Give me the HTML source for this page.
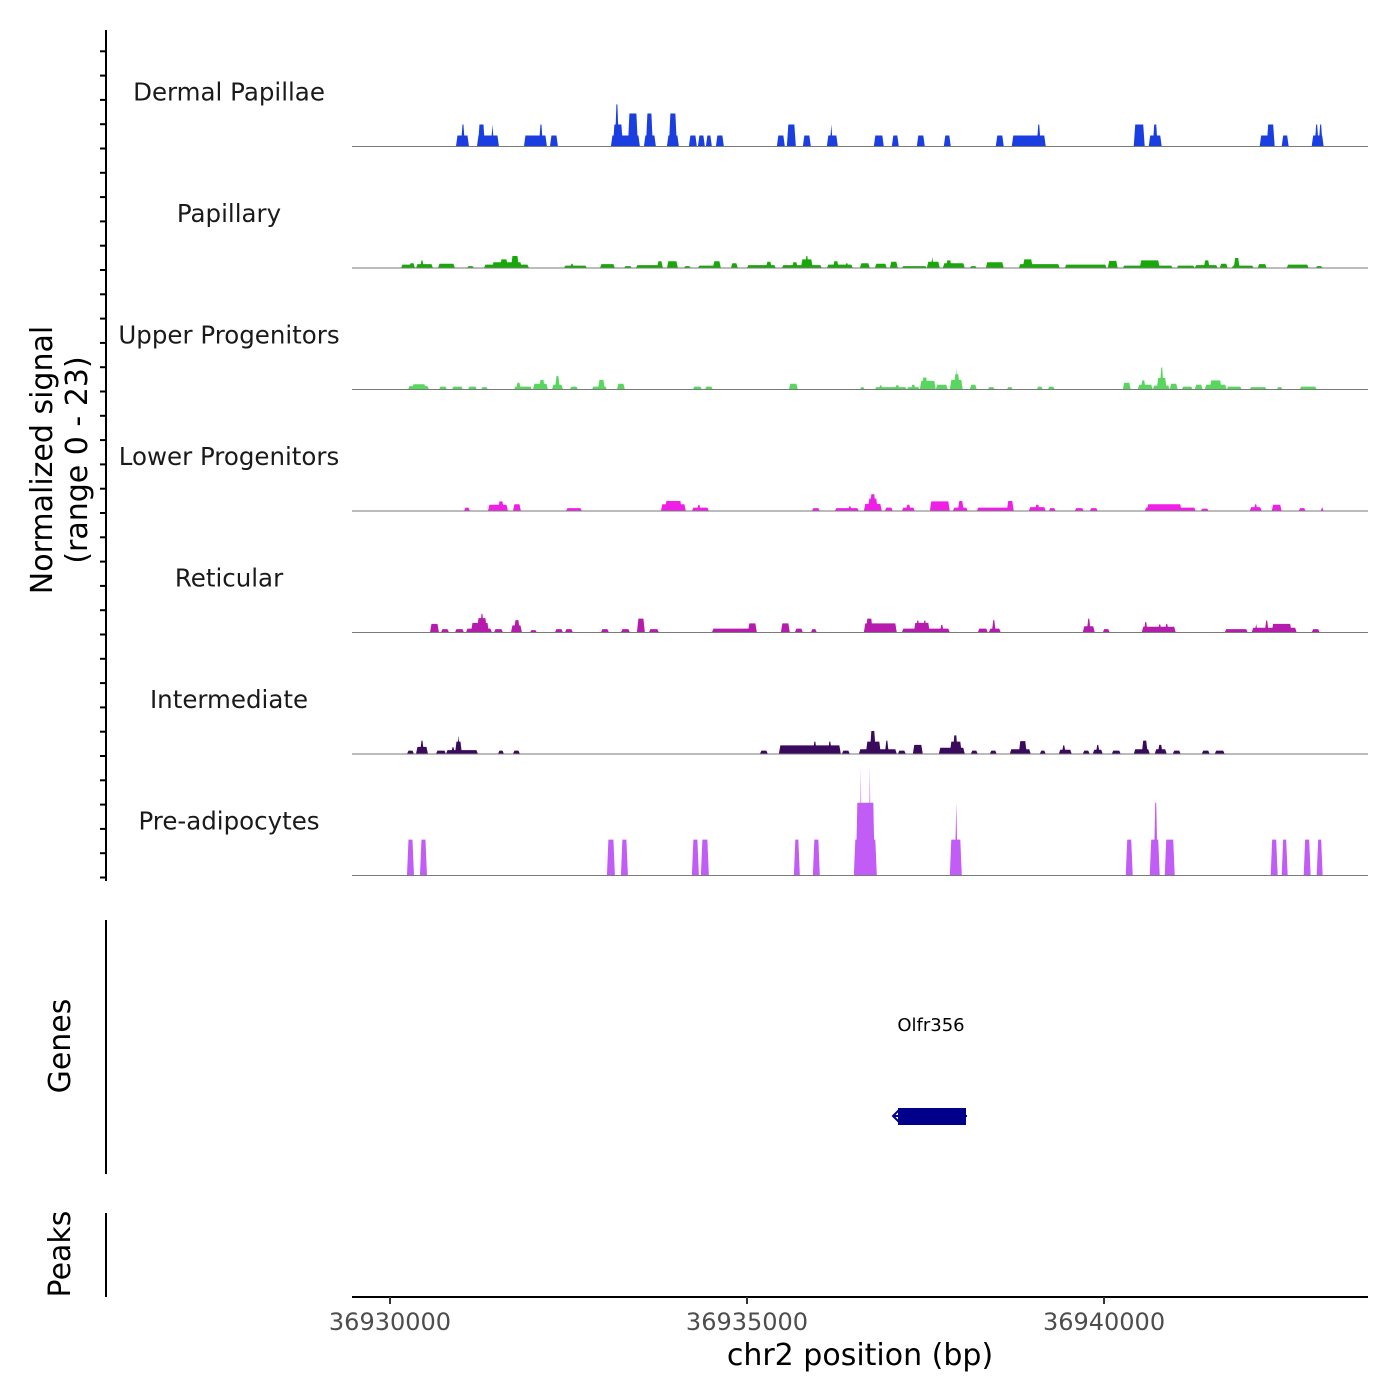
<!DOCTYPE html>
<html><head><meta charset="utf-8"><style>
html,body{margin:0;padding:0;background:#fff;}
svg{display:block;font-family:"DejaVu Sans","Liberation Sans",sans-serif;}
</style></head><body>
<svg id="chart" width="1400" height="1400" viewBox="0 0 1400 1400" xmlns="http://www.w3.org/2000/svg">
<g id="tracks"></g>
<g id="leftaxis"></g>
<text transform="translate(52,460) rotate(-90)" text-anchor="middle" font-size="30" fill="#000">Normalized signal</text>
<text transform="translate(87,460) rotate(-90)" text-anchor="middle" font-size="30" fill="#000">(range 0 - 23)</text>
<line x1="106" y1="920" x2="106" y2="1174" stroke="#000" stroke-width="2"/>
<text transform="translate(70,1046) rotate(-90)" text-anchor="middle" font-size="30" fill="#000">Genes</text>
<text x="931" y="1031" text-anchor="middle" font-size="18" fill="#000">Olfr356</text>
<line x1="893" y1="1116" x2="967" y2="1116" stroke="#00008b" stroke-width="2"/>
<polyline points="899,1110 893,1116 899,1122" fill="none" stroke="#00008b" stroke-width="2"/>
<rect x="898" y="1108" width="68" height="17" fill="#00008b"/>
<line x1="106" y1="1213" x2="106" y2="1297" stroke="#000" stroke-width="2"/>
<text transform="translate(70,1254) rotate(-90)" text-anchor="middle" font-size="30" fill="#000">Peaks</text>
<g id="xaxis"></g>
<text x="860" y="1365" text-anchor="middle" font-size="30" fill="#000">chr2 position (bp)</text>
</svg>
<script>
// genomic window and bin size (bp)
const windowStart = 36929468;
const windowEnd = 36943697;
const binSize = 14;
const signalMax = 23;
const trackNames = ["Dermal Papillae","Papillary","Upper Progenitors","Lower Progenitors","Reticular","Intermediate","Pre-adipocytes"];
const trackColors = ["#1a3ee0","#19a80a","#58d75f","#f01fe6","#b51cae","#3a0a5c","#c25cf6"];
const xTicks = [36930000, 36935000, 36940000];
const xTickLabels = ["36930000","36935000","36940000"];
// segments: [startBin, endBin, normalized signal]
const dermalPapillae = [[104,117,2.3],[109,113,4.6],[125,147,2.3],[126,133,4.6],[139,142,4.6],[172,195,2.3],[187,191,4.6],[198,206,2.3],[259,288,2.3],[261,271,4.6],[263,267,8.8],[276,286,6.9],[292,304,2.3],[294,301,6.9],[315,327,2.3],[317,325,6.9],[337,345,2.3],[346,353,2.3],[354,360,2.3],[364,372,2.3],[425,433,2.3],[435,444,4.6],[451,459,2.3],[475,486,2.3],[478,481,4.6],[522,532,2.3],[540,547,2.3],[565,573,2.3],[592,599,2.3],[644,652,2.3],[660,694,2.3],[685,689,4.6],[782,793,4.6],[797,810,2.3],[801,806,4.6],[908,923,2.3],[915,923,4.6],[930,937,2.3],[960,972,2.3],[963,967,4.6],[967,971,4.6]];
const papillary = [[49,63,0.7],[57,63,1.0],[64,81,0.8],[68,72,1.6],[86,103,0.9],[115,122,0.4],[132,177,0.7],[140,170,1.2],[148,156,1.8],[159,167,2.5],[212,235,0.5],[218,222,0.9],[248,263,0.8],[272,280,0.4],[284,311,0.6],[305,311,1.4],[315,326,1.4],[332,339,0.4],[346,369,0.5],[361,369,1.4],[379,386,1.0],[395,424,0.6],[414,420,1.3],[430,470,0.6],[440,446,1.2],[449,461,1.8],[453,457,2.5],[475,501,0.7],[481,487,1.4],[493,497,1.0],[508,518,1.0],[523,535,0.9],[538,546,1.3],[550,575,0.4],[575,588,1.3],[579,582,2.3],[591,613,1.0],[594,600,1.6],[618,625,0.4],[634,652,1.2],[667,708,0.8],[671,681,1.8],[713,755,0.7],[756,766,1.5],[771,821,0.5],[788,808,1.6],[825,843,0.5],[843,866,0.6],[852,858,1.6],[868,876,0.9],[880,902,0.5],[882,888,2.1],[906,915,0.8],[935,957,0.7],[964,971,0.4]];
const upperProgenitors = [[56,77,0.7],[60,74,1.1],[87,95,0.6],[100,111,0.6],[116,125,0.6],[129,136,0.5],[162,180,0.6],[164,169,1.4],[181,196,1.2],[187,193,2.0],[200,211,1.0],[203,208,2.8],[218,226,0.6],[240,255,0.6],[246,253,2.0],[265,273,1.2],[341,350,0.6],[353,361,0.6],[437,446,1.2],[508,513,0.5],[523,555,0.5],[527,531,0.9],[543,548,0.9],[555,568,0.5],[559,564,1.0],[568,584,1.8],[570,576,2.5],[584,596,1.0],[598,611,2.0],[602,608,3.2],[604,606,4.7],[618,625,1.0],[636,643,0.5],[655,661,0.5],[685,691,0.6],[696,703,0.6],[771,779,1.4],[786,801,1.0],[789,794,1.9],[801,818,0.8],[805,815,2.4],[808,812,4.6],[818,826,1.2],[830,841,0.6],[843,851,1.0],[853,875,1.0],[858,870,1.9],[875,890,0.6],[898,915,0.5],[925,931,0.5],[948,965,0.6]];
const lowerProgenitors = [[112,118,0.7],[136,156,1.3],[146,152,2.0],[161,169,1.4],[214,230,0.6],[309,334,1.4],[313,330,2.1],[340,357,0.7],[345,349,1.3],[460,468,0.6],[483,507,0.6],[496,500,1.0],[512,530,1.5],[516,526,2.6],[518,524,3.5],[533,541,0.7],[550,563,0.7],[554,559,1.3],[578,598,2.0],[601,616,0.7],[606,612,2.1],[625,662,0.7],[655,662,2.1],[677,694,0.8],[683,688,1.3],[697,704,0.6],[723,732,0.6],[738,746,0.6],[793,844,0.7],[795,830,1.4],[849,857,0.5],[898,910,0.8],[902,906,1.4],[920,930,1.3],[947,954,0.6],[969,972,0.8]];
const reticular = [[78,87,1.8],[89,97,0.7],[103,112,0.7],[114,140,0.8],[119,137,2.0],[125,135,3.0],[128,132,3.9],[142,151,0.7],[159,170,1.5],[162,168,2.6],[178,185,0.5],[203,211,0.7],[213,221,0.7],[249,257,0.7],[269,278,0.7],[285,293,2.9],[297,307,0.7],[360,405,0.8],[396,405,1.9],[429,438,1.9],[443,451,0.8],[459,465,0.7],[512,545,1.9],[514,521,2.9],[550,598,0.8],[562,578,2.0],[564,568,2.5],[571,575,2.5],[588,592,1.6],[626,636,0.8],[637,649,0.8],[640,644,2.6],[731,743,1.3],[735,739,2.9],[751,758,0.7],[790,824,1.2],[792,796,2.2],[806,810,1.7],[813,817,1.8],[873,896,0.7],[900,945,1.0],[903,906,1.8],[913,917,2.5],[920,940,1.8],[960,968,0.7]];
const intermediate = [[55,62,0.7],[64,76,1.5],[68,72,2.8],[84,94,0.7],[94,126,0.8],[99,103,1.4],[103,110,2.6],[105,108,3.9],[146,152,0.7],[161,168,0.7],[408,416,0.7],[427,489,1.8],[461,465,2.6],[476,480,2.6],[490,498,0.7],[507,545,1.0],[514,529,2.6],[518,524,4.8],[533,537,2.8],[546,554,0.7],[561,571,1.9],[587,613,1.3],[598,610,2.6],[601,606,3.9],[619,626,0.7],[638,645,0.7],[658,679,1.0],[667,675,2.7],[688,694,0.7],[707,720,0.9],[710,714,1.8],[731,738,0.7],[741,751,0.9],[744,748,1.9],[760,769,0.7],[782,798,1.0],[790,796,2.8],[803,815,1.0],[806,811,1.9],[821,829,0.7],[850,858,0.7],[863,873,0.7]];
const preAdipocytes = [[55,62,7.5],[68,75,7.5],[255,263,7.5],[269,276,7.5],[340,347,7.5],[349,357,7.5],[442,448,7.5],[461,468,7.5],[502,525,7.5],[504,523,15.2],[508,510,22.5],[517,519,23],[598,610,7.5],[603,606,15.2],[774,781,7.5],[798,808,7.5],[802,806,15.2],[813,823,7.5],[919,926,7.5],[930,936,7.5],[952,959,7.5],[965,971,7.5]];
const trackData = [dermalPapillae, papillary, upperProgenitors, lowerProgenitors, reticular, intermediate, preAdipocytes];

const NS = "http://www.w3.org/2000/svg";
const X0 = 352, X1 = 1368;
function xScale(bp){ return X0 + (bp - windowStart) / (windowEnd - windowStart) * (X1 - X0); }
const firstBase = 146.5, trackStep = 121.5, pxPerUnit = 110 / signalMax;
function yScale(track, v){ return firstBase + track * trackStep - v * pxPerUnit; }
function mk(tag, attrs){ const e = document.createElementNS(NS, tag); for (const k in attrs) e.setAttribute(k, attrs[k]); return e; }

const tracksG = document.getElementById('tracks');
trackData.forEach((segs, t) => {
  const g = mk('g', {});
  
  
  tracksG.appendChild(g);
  const lbl = mk('text', {x: 229, y: firstBase + t * trackStep - 46, 'text-anchor': 'middle', 'font-size': 24.5, fill: '#1a1a1a'});
  lbl.textContent = trackNames[t];
  
  
  g.appendChild(lbl);
  const base = yScale(t, 0);
  segs.forEach(s => {
    const xa = xScale(windowStart + s[0] * binSize), xb = xScale(windowStart + s[1] * binSize);
    const yt = yScale(t, s[2]);
    const r = Math.min(1.5, (xb - xa) / 2);
    const p = mk('polygon', {points: `${xa},${base} ${xa + r},${yt} ${xb - r},${yt} ${xb},${base}`, fill: trackColors[t]});
    
    
    g.appendChild(p);
  });
  const bl = mk('line', {x1: X0, x2: X1, y1: base, y2: base, stroke: '#7a7a7a', 'stroke-width': 1});
  
  
  g.appendChild(bl);
});

const la = document.getElementById('leftaxis');
const axl = mk('line', {x1: 106, x2: 106, y1: 30, y2: 881, stroke: '#000', 'stroke-width': 2});


la.appendChild(axl);
for (let k = 0; k < 36; k++) {
  const y = 877.5 - k * 24.3;
  if (y < 32) break;
  const tk = mk('line', {x1: 100, x2: 106, y1: y, y2: y, stroke: '#000', 'stroke-width': 2});
  
  
  la.appendChild(tk);
}

const xa = document.getElementById('xaxis');
const xl = mk('line', {x1: X0, x2: X1, y1: 1297, y2: 1297, stroke: '#000', 'stroke-width': 2});


xa.appendChild(xl);
xTicks.forEach((v, i) => {
  const x = xScale(v);
  const tk = mk('line', {x1: x, x2: x, y1: 1297, y2: 1304, stroke: '#333', 'stroke-width': 2});
  
  
  xa.appendChild(tk);
  const tl = mk('text', {x: x, y: 1330, 'text-anchor': 'middle', 'font-size': 24, fill: '#4d4d4d'});
  tl.textContent = xTickLabels[i];
  
  
  xa.appendChild(tl);
});
</script>
</body></html>
